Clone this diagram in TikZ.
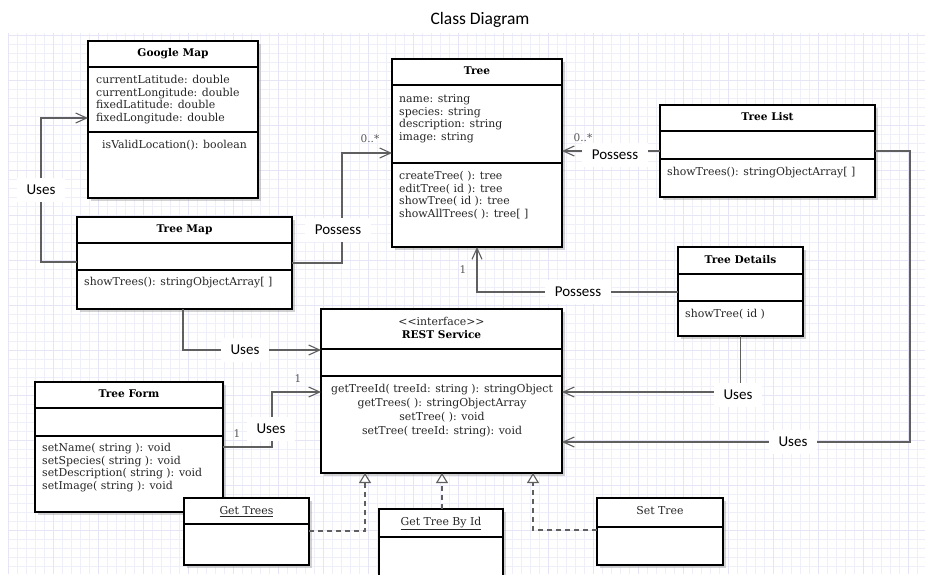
\documentclass[tikz,border=0pt]{standalone}
\usepackage{fontspec}
\setmainfont{DejaVu Serif}
\newfontfamily\labelfont{Carlito}
\usetikzlibrary{arrows.meta,shadows,calc}
\definecolor{gridminor}{RGB}{239,239,250}
\definecolor{gridmajor}{RGB}{229,229,245}
\definecolor{conn}{RGB}{95,95,95}
\begin{document}
\begin{tikzpicture}[x=1pt,y=-1pt,
  cls/.style={draw=black, line width=1.8pt, fill=white, inner sep=0pt, outer sep=0pt, anchor=north west,
    drop shadow={shadow xshift=3pt, shadow yshift=-3pt, opacity=0.35, fill=gray}},
  cmp/.style={line width=1.4pt},
  hd/.style={font=\fontsize{10.6}{12}\selectfont\bfseries, inner sep=0pt, text height=8pt, text depth=2.5pt},
  tx/.style={font=\fontsize{10.9}{12}\selectfont, inner sep=0pt, anchor=west, text=black!85, text height=8pt, text depth=2.5pt},
  ctx/.style={font=\fontsize{10.9}{12}\selectfont, inner sep=0pt, text=black!85, text height=8pt, text depth=2.5pt},
  lbl/.style={font=\labelfont\fontsize{15}{17}\selectfont, fill=white, inner xsep=10pt, inner ysep=7pt},
  mult/.style={font=\fontsize{10.5}{12}\selectfont, text=black!65, inner sep=1pt},
  con/.style={draw=conn, line width=1.1pt, -{Straight Barb[length=11pt,width=10pt]}},
  real/.style={draw=conn, line width=1.1pt, dash pattern=on 5pt off 4pt, -{Triangle[length=10pt,width=12pt,fill=white]}},
  plain/.style={draw=conn, line width=1.1pt}
]
\useasboundingbox (0,0) rectangle (925,574);
\clip (0,0) rectangle (925,574);
\fill[white] (0,0) rectangle (925,574);
% grid
\foreach \x in {8,17,...,925} \draw[gridminor, line width=0.6pt] (\x,33) -- (\x,574);
\foreach \y in {35,44,...,574} \draw[gridminor, line width=0.6pt] (8,\y) -- (925,\y);
\foreach \x in {8,53,...,925} \draw[gridmajor, line width=0.7pt] (\x,33) -- (\x,574);
\foreach \y in {35,80,...,574} \draw[gridmajor, line width=0.7pt] (8,\y) -- (925,\y);

\node[font=\labelfont\fontsize{17.5}{20}\selectfont] (title) at (480,20) {Class Diagram};

% Google Map
\node[cls, minimum width=170pt, minimum height=157pt] (gm) at (88,41) {};
\draw[cmp] (gm.west |- 0,67) -- (gm.east |- 0,67);
\draw[cmp] (gm.west |- 0,132) -- (gm.east |- 0,132);
\node[hd] (gmh) at (173,54) {Google Map};
\node[tx] (gma1) at (96,81) {currentLatitude: double};
\node[tx] (gma2) at (96,93.5) {currentLongitude: double};
\node[tx] (gma3) at (96,106) {fixedLatitude: double};
\node[tx] (gma4) at (96,118.5) {fixedLongitude: double};
\node[tx] (gmm1) at (102,146) {isValidLocation(): boolean};

% Tree Map
\node[cls, minimum width=215pt, minimum height=92pt] (tm) at (77,217) {};
\draw[cmp] (tm.west |- 0,243) -- (tm.east |- 0,243);
\draw[cmp] (tm.west |- 0,270) -- (tm.east |- 0,270);
\node[hd] (tmh) at (184.5,230) {Tree Map};
\node[tx] (tmm1) at (84,283) {showTrees(): stringObjectArray[ ]};

% Tree
\node[cls, minimum width=170pt, minimum height=188pt] (tree) at (392,59) {};
\draw[cmp] (tree.west |- 0,85) -- (tree.east |- 0,85);
\draw[cmp] (tree.west |- 0,163) -- (tree.east |- 0,163);
\node[hd] (treeh) at (477,72) {Tree};
\node[tx] (tra1) at (399,100) {name: string};
\node[tx] (tra2) at (399,112.5) {species: string};
\node[tx] (tra3) at (399,125) {description: string};
\node[tx] (tra4) at (399,137.5) {image: string};
\node[tx] (trm1) at (399,177) {createTree( ): tree};
\node[tx] (trm2) at (399,189.5) {editTree( id ): tree};
\node[tx] (trm3) at (399,202) {showTree( id ): tree};
\node[tx] (trm4) at (399,214.5) {showAllTrees( ): tree[ ]};

% Tree List
\node[cls, minimum width=215pt, minimum height=92pt] (tl) at (660,105) {};
\draw[cmp] (tl.west |- 0,131) -- (tl.east |- 0,131);
\draw[cmp] (tl.west |- 0,159) -- (tl.east |- 0,159);
\node[hd] (tlh) at (767.5,118) {Tree List};
\node[tx] (tlm1) at (667,173) {showTrees(): stringObjectArray[ ]};

% Tree Details
\node[cls, minimum width=125pt, minimum height=89pt] (td) at (678,247) {};
\draw[cmp] (td.west |- 0,274) -- (td.east |- 0,274);
\draw[cmp] (td.west |- 0,301) -- (td.east |- 0,301);
\node[hd] (tdh) at (740.5,261) {Tree Details};
\node[tx] (tdm1) at (685,315) {showTree( id )};

% REST Service
\node[cls, minimum width=241pt, minimum height=164pt] (rs) at (321,309) {};
\draw[cmp] (rs.west |- 0,349) -- (rs.east |- 0,349);
\draw[cmp] (rs.west |- 0,376) -- (rs.east |- 0,376);
\node[ctx] (rss) at (441.5,323) {<{}<interface>{}>};
\node[hd] (rsh) at (441.5,336) {REST Service};
\node[ctx] (rsm1) at (442,390) {getTreeId( treeId: string ): stringObject};
\node[ctx] (rsm2) at (442,404) {getTrees( ): stringObjectArray};
\node[ctx] (rsm3) at (442,418) {setTree( ): void};
\node[ctx] (rsm4) at (442,432) {setTree( treeId: string): void};

% Tree Form
\node[cls, minimum width=188pt, minimum height=130pt] (tf) at (35,382) {};
\draw[cmp] (tf.west |- 0,408) -- (tf.east |- 0,408);
\draw[cmp] (tf.west |- 0,436) -- (tf.east |- 0,436);
\node[hd] (tfh) at (129,395) {Tree Form};
\node[tx] (tfm1) at (42,449) {setName( string ): void};
\node[tx] (tfm2) at (42,461.5) {setSpecies( string ): void};
\node[tx] (tfm3) at (42,474) {setDescription( string ): void};
\node[tx] (tfm4) at (42,486.5) {setImage( string ): void};

% Get Trees
\node[cls, minimum width=125pt, minimum height=67pt] (gt) at (184,498) {};
\draw[cmp] (gt.west |- 0,524) -- (gt.east |- 0,524);
\node[ctx] (gth) at (246.5,512) {\underline{Get Trees}};

% Get Tree By Id
\node[cls, minimum width=124pt, minimum height=72pt] (gid) at (379,509) {};
\draw[cmp] (gid.west |- 0,537) -- (gid.east |- 0,537);
\node[ctx] (gidh) at (441,523) {\underline{Get Tree By Id}};

% Set Tree
\node[cls, minimum width=126pt, minimum height=67pt] (st) at (597,498) {};
\draw[cmp] (st.west |- 0,527) -- (st.east |- 0,527);
\node[ctx] (sth) at (660,512) {Set Tree};

% connectors
\draw[con] (tm.west |- 0,262) -- (41,262) |- (gm.west |- 0,118);
\draw[con] (tm.east |- 0,263) -| (342,153) -- (tree.west |- 0,153);
\draw[con] (tl.west |- 0,151) -- (tree.east |- 0,151);
\draw[con] (td.west |- 0,292) -| (tree.south -| 477,0);
\draw[con] (td.south) |- (rs.east |- 0,392);
\draw[con] (tl.east |- 0,151) -- (910,151) |- (rs.east |- 0,442);
\draw[con] (tm.south -| 183,0) |- (rs.west |- 0,350);
\draw[con] (tf.east |- 0,447) -| (272,392) -- (rs.west |- 0,392);
\draw[real] (gt.east |- 0,531) -| (rs.south -| 365,0);
\draw[real] (gid.north -| 442,0) -- (rs.south -| 442,0);
\draw[real] (st.west |- 0,530) -| (rs.south -| 533,0);

% labels
\node[lbl] (l1) at (41,190) {Uses};
\node[lbl] (l2) at (338,230) {Possess};
\node[lbl] (l3) at (615,155) {Possess};
\node[lbl] (l4) at (578,292) {Possess};
\node[lbl] (l5) at (738,395) {Uses};
\node[lbl] (l6) at (793,442) {Uses};
\node[lbl] (l7) at (245,350) {Uses};
\node[lbl] (l8) at (271,429) {Uses};

\node[mult] (m1) at (370,139) {0..*};
\node[mult] (m2) at (583,138) {0..*};
\node[mult] (m3) at (463,270) {1};
\node[mult] (m4) at (237,434) {1};
\node[mult] (m5) at (298,379) {1};
\end{tikzpicture}
\end{document}
